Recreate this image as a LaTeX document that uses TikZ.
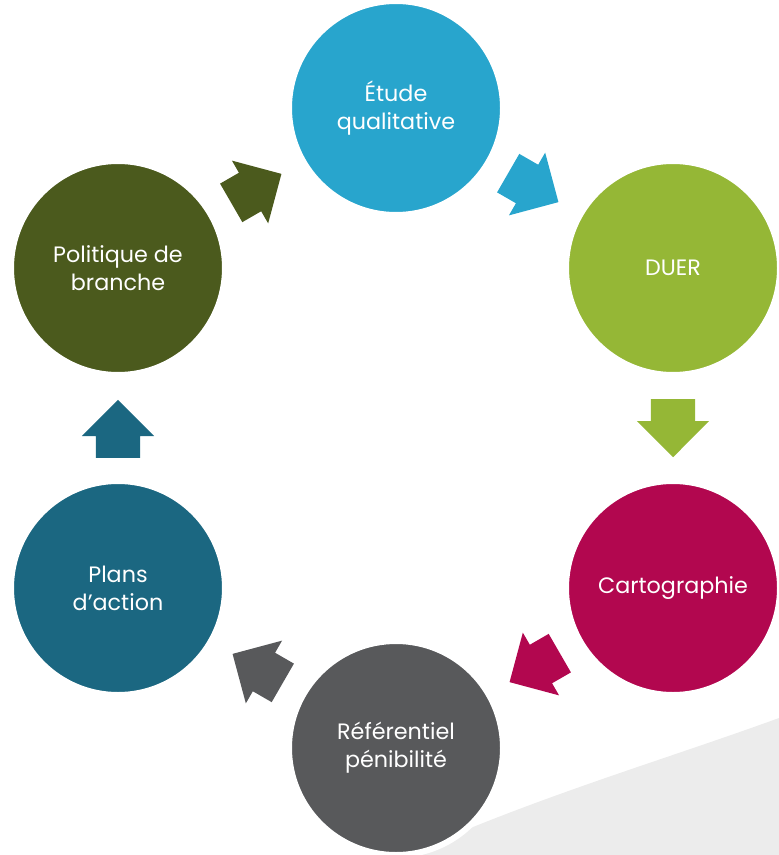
\documentclass[tikz,border=0pt]{standalone}
\usepackage{fontspec}
\setmainfont{Poppins}
\usetikzlibrary{shapes.arrows}
\definecolor{etude}{RGB}{40,165,205}
\definecolor{duer}{RGB}{149,183,54}
\definecolor{carto}{RGB}{178,7,79}
\definecolor{referentiel}{RGB}{88,89,91}
\definecolor{plans}{RGB}{27,103,129}
\definecolor{politique}{RGB}{75,90,29}
\definecolor{fond}{RGB}{236,236,236}
\begin{document}
\begin{tikzpicture}[x=0.3mm, y=-0.3mm,
		etape/.style={circle, draw=white, line width=1.8mm, minimum size=64.2mm, inner sep=0pt, text=white, align=center, font=\fontsize{19}{24}\selectfont},
		fleche/.style={single arrow, anchor=tail, minimum height=17.4mm, inner xsep=0pt, inner ysep=6.6mm, single arrow head extend=4.2mm, single arrow tip angle=90}]
		\useasboundingbox (0,0) rectangle (779,855);
		% Fond gris
		\fill[fond] (394,855) -- (473,827) .. controls (580,784) and (680,754) .. (779,718) -- (779,855) -- cycle;
		% Etapes
		\node[etape, fill=etude] (etude) at (396,108) {Étude\\qualitative};
		\node[etape, fill=duer] (duer) at (673,268) {DUER};
		\node[etape, fill=carto] (carto) at (673,588) {Cartographie};
		\node[etape, fill=referentiel] (referentiel) at (396,748) {Référentiel\\pénibilité};
		\node[etape, fill=plans] (plans) at (118,588) {Plans\\d’action};
		\node[etape, fill=politique] (politique) at (118,268) {Politique de\\branche};
		% Fleches (placees par la queue)
		\node[fleche, fill=politique, rotate=30] (f1) at (231,203) {};
		\node[fleche, fill=etude, rotate=-30] (f2) at (508,173) {};
		\node[fleche, fill=duer, rotate=-90] (f3) at (673,399) {};
		\node[fleche, fill=carto, rotate=210] (f4) at (560,653) {};
		\node[fleche, fill=referentiel, rotate=150] (f5) at (283,683) {};
		\node[fleche, fill=plans, rotate=90] (f6) at (118,458) {};
\end{tikzpicture}
\end{document}
